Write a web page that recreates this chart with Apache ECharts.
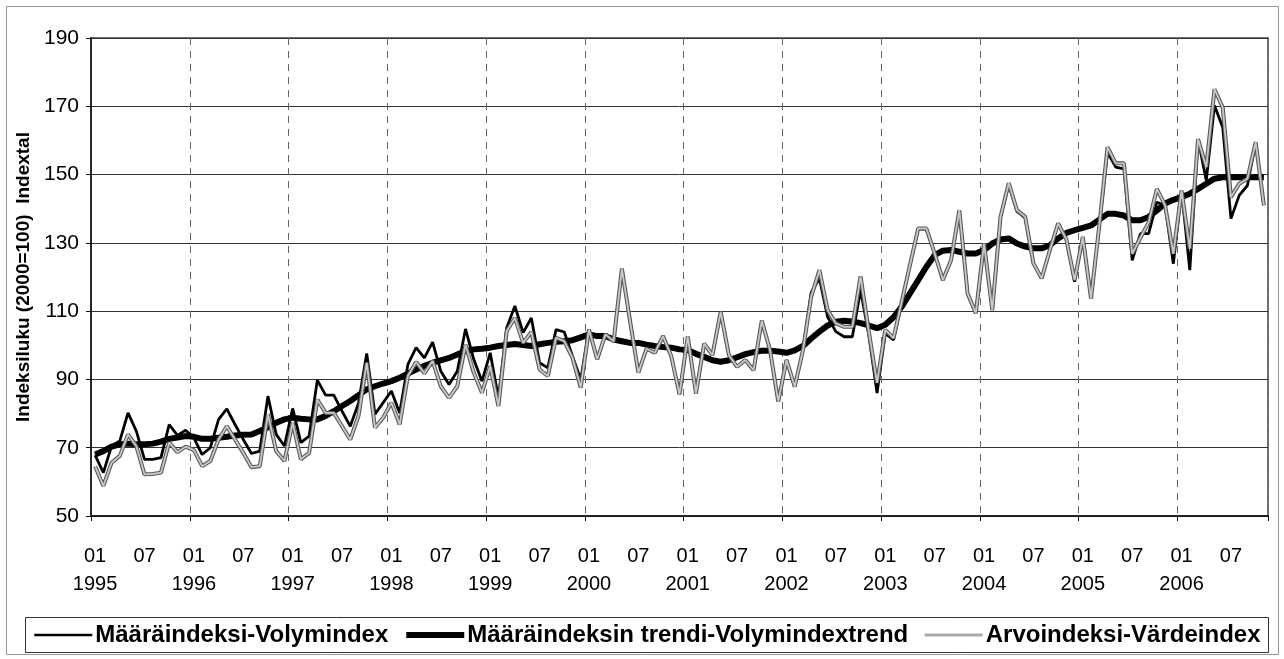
<!DOCTYPE html>
<html>
<head>
<meta charset="utf-8">
<script src="https://cdn.jsdelivr.net/npm/echarts@6/dist/echarts.min.js"></script>
<style>
  html, body { margin: 0; padding: 0; background: #fff; }
  #chart { width: 1284px; height: 659px; }
</style>
</head>
<body>
<div id="chart"></div>
<script>
// months 1995-01 .. 2006-11
const years = ['1995', '1996', '1997', '1998', '1999', '2000', '2001', '2002', '2003', '2004', '2005', '2006'];
const monthCodes = ['01', '02', '03', '04', '05', '06', '07', '08', '09', '10', '11', '12'];
const categories = [];
years.forEach(y => monthCodes.forEach(m => categories.push(y + '-' + m)));
categories.length = 143;

const yTicks = [50, 70, 90, 110, 130, 150, 170, 190];

// Määräindeksi-Volymindex
const volymindex = [
  67.8, 62.7, 70.5, 72.0, 80.2, 74.9, 66.6, 66.6, 67.1, 76.8, 73.6, 75.1,
  72.9, 68.0, 70.0, 78.3, 81.4, 76.8, 72.4, 68.3, 69.0, 85.1, 73.9, 70.5,
  81.5, 71.5, 73.4, 89.8, 85.4, 85.4, 80.7, 76.3, 83.0, 97.6, 79.8, 83.2,
  86.6, 80.2, 94.4, 99.3, 96.3, 100.9, 92.4, 88.5, 92.4, 104.8, 95.9, 89.5,
  97.8, 84.6, 105.1, 111.5, 103.7, 108.0, 94.9, 93.4, 104.6, 103.9, 96.8, 90.0,
  104.6, 95.9, 103.2, 101.2, 122.4, 107.0, 92.0, 99.0, 97.8, 102.7, 96.8, 85.6,
  102.6, 85.9, 100.5, 97.1, 109.8, 97.1, 93.7, 95.7, 92.7, 107.2, 98.6, 83.5,
  95.7, 87.9, 98.6, 115.5, 119.6, 108.3, 104.0, 102.5, 102.5, 116.1, 103.0, 86.0,
  103.5, 101.6, 112.5, 123.5, 134.0, 134.0, 126.9, 119.1, 125.0, 139.3, 115.2, 109.4,
  129.8, 110.3, 137.6, 147.2, 139.2, 137.3, 124.0, 119.6, 127.9, 135.7, 131.0, 118.6,
  131.7, 113.7, 135.0, 156.5, 152.2, 151.7, 124.9, 132.7, 132.7, 141.9, 141.0, 123.9,
  145.3, 122.0, 160.4, 148.3, 170.2, 163.8, 137.1, 143.9, 146.8, 159.5, 141.0
];

// Määräindeksin trendi-Volymindextrend
const trendi = [
  68.0, 69.0, 70.3, 71.0, 71.2, 71.0, 71.0, 71.2, 71.8, 72.6, 73.0, 73.4,
  73.2, 72.6, 72.6, 72.9, 73.2, 73.6, 73.8, 73.9, 74.9, 76.0, 77.3, 78.3,
  78.8, 78.5, 78.3, 78.3, 79.3, 80.7, 82.2, 83.7, 85.4, 87.1, 88.0, 88.8,
  89.5, 90.5, 91.7, 92.9, 94.0, 94.9, 95.6, 96.3, 97.3, 98.3, 98.8, 99.0,
  99.3, 99.8, 100.1, 100.4, 100.1, 99.8, 100.3, 100.7, 101.0, 101.2, 101.5, 102.3,
  103.2, 102.7, 102.7, 101.7, 101.2, 100.7, 100.7, 100.2, 99.8, 99.5, 99.3, 98.8,
  98.6, 97.5, 96.6, 95.6, 95.2, 95.6, 96.5, 97.4, 98.0, 98.4, 98.4, 98.2,
  97.8, 98.5, 99.8, 102.0, 104.0, 105.8, 106.9, 107.2, 107.0, 106.5, 105.8, 105.0,
  106.0, 108.2, 111.3, 115.2, 119.1, 123.0, 126.4, 127.7, 127.9, 127.4, 126.9, 126.9,
  127.9, 129.8, 131.0, 131.3, 129.8, 128.9, 128.4, 128.4, 129.3, 131.3, 132.9, 133.7,
  134.4, 135.1, 136.8, 138.5, 138.5, 138.0, 136.6, 136.6, 137.6, 139.5, 141.5, 142.6,
  143.4, 144.4, 145.8, 147.3, 148.8, 149.2, 149.2, 149.2, 149.2, 149.2, 149.2
];

// Arvoindeksi-Värdeindex
const arvoindeksi = [
  64.6, 58.8, 65.6, 67.6, 73.9, 70.5, 62.2, 62.3, 62.7, 71.5, 68.7, 70.3,
  69.3, 64.6, 66.1, 72.4, 76.3, 72.4, 68.5, 64.3, 64.6, 79.8, 69.0, 66.1,
  77.3, 66.6, 68.5, 84.1, 80.2, 80.2, 76.3, 72.4, 79.3, 94.9, 75.9, 78.8,
  83.2, 76.8, 91.0, 95.1, 91.8, 95.4, 88.0, 84.6, 88.0, 100.2, 92.0, 86.1,
  93.9, 82.2, 104.1, 108.0, 100.7, 103.9, 92.9, 91.0, 102.2, 101.2, 96.3, 87.6,
  104.6, 95.9, 103.2, 101.2, 122.4, 107.0, 92.0, 99.0, 97.8, 102.7, 96.8, 85.6,
  102.6, 85.9, 100.5, 97.1, 109.8, 97.1, 93.7, 95.7, 92.7, 107.2, 98.6, 83.5,
  95.7, 87.9, 98.6, 114.2, 122.0, 110.3, 106.4, 105.4, 105.4, 120.2, 104.0, 89.0,
  104.5, 102.1, 112.8, 123.5, 134.2, 134.2, 126.9, 119.1, 125.0, 139.6, 115.2, 109.4,
  129.8, 110.3, 137.6, 147.5, 139.6, 137.6, 124.0, 119.6, 127.9, 135.7, 131.0, 119.1,
  131.7, 113.7, 135.0, 158.0, 153.3, 153.3, 126.8, 131.5, 136.0, 145.8, 141.0, 126.8,
  145.3, 128.3, 160.4, 152.2, 175.0, 169.7, 143.4, 147.3, 148.8, 159.5, 141.0
];

const seriesNames = ['Määräindeksi-Volymindex', 'Määräindeksin trendi-Volymindextrend', 'Arvoindeksi-Värdeindex'];

const fontFamily = "'Liberation Sans', Arial, sans-serif";
const chart = echarts.init(document.getElementById('chart'), null, { renderer: 'canvas' });

const option = {
  backgroundColor: '#fff',
  animation: false,
  textStyle: { fontFamily: fontFamily, color: '#000' },
  graphic: [
    {
      type: 'rect', silent: true, z: -1,
      shape: { x: 6.5, y: 6.5, width: 1272, height: 648 },
      style: { fill: 'none', stroke: '#999', lineWidth: 1 }
    },
    {
      type: 'rect', silent: true, z: -1,
      shape: { x: 25.5, y: 617.5, width: 1243, height: 35 },
      style: { fill: 'none', stroke: '#333', lineWidth: 1 }
    }
  ],
  grid: {
    left: 91, right: 16, top: 38, bottom: 143,
    show: true, borderColor: '#444', borderWidth: 1.5, backgroundColor: '#fff'
  },
  legend: {
    data: [
      { name: seriesNames[0], lineStyle: { width: 2.5, color: '#000' } },
      { name: seriesNames[1], lineStyle: { width: 6, color: '#000' } },
      { name: seriesNames[2], lineStyle: { width: 3, color: '#aaa' } }
    ],
    left: 33, top: 623,
    padding: 0,
    itemGap: 15,
    itemWidth: 58,
    itemHeight: 12,
    itemStyle: { color: 'rgba(0,0,0,0)', borderColor: 'rgba(0,0,0,0)', borderWidth: 0 },
    textStyle: { fontSize: 24, fontWeight: 'bold', fontFamily: fontFamily, color: '#000', padding: [0, 0, 0, -2] }
  },
  xAxis: {
    type: 'category',
    data: categories,
    boundaryGap: true,
    axisLine: { lineStyle: { color: '#111', width: 1.5 } },
    axisTick: {
      show: true, length: 5,
      interval: (i) => i % 12 === 0,
      lineStyle: { color: '#111' }
    },
    axisLabel: {
      interval: (i) => i % 6 === 0,
      margin: 26,
      fontSize: 20,
      lineHeight: 28,
      color: '#000',
      formatter: (value) => {
        const parts = value.split('-');
        return parts[1] === '01' ? parts[1] + '\n' + parts[0] : parts[1];
      }
    },
    splitLine: {
      show: true,
      interval: (i) => i % 12 === 0 && i > 0,
      lineStyle: { color: '#666', width: 1, type: [7, 6] }
    }
  },
  yAxis: {
    type: 'value',
    min: yTicks[0],
    max: yTicks[yTicks.length - 1],
    interval: 20,
    name: 'Indeksiluku (2000=100)  Indextal',
    nameLocation: 'middle',
    nameGap: 47,
    nameRotate: 90,
    nameTextStyle: { fontSize: 19, fontWeight: 'bold', color: '#000' },
    axisLine: { show: true, lineStyle: { color: '#111', width: 1.5 } },
    axisTick: { show: true, length: 5, inside: false, lineStyle: { color: '#111' } },
    axisLabel: { fontSize: 21, margin: 12, color: '#000' },
    splitLine: { show: true, lineStyle: { color: '#333', width: 1 } }
  },
  series: [
    {
      name: seriesNames[0],
      type: 'line',
      data: volymindex,
      symbol: 'none',
      z: 2,
      lineStyle: { color: '#000', width: 2.8 },
      itemStyle: { color: '#000' }
    },
    {
      name: seriesNames[1],
      type: 'line',
      data: trendi,
      symbol: 'none',
      z: 3,
      lineStyle: { color: '#000', width: 6 },
      itemStyle: { color: '#000' }
    },
    {
      // light core of the grey line (first with this name -> legend icon)
      name: seriesNames[2],
      type: 'line',
      data: arvoindeksi,
      symbol: 'none',
      z: 5,
      lineStyle: { color: '#c8c8c8', width: 1.8 },
      itemStyle: { color: '#c8c8c8' }
    },
    {
      // darker outline of the grey line
      name: seriesNames[2],
      type: 'line',
      data: arvoindeksi,
      symbol: 'none',
      z: 4,
      lineStyle: { color: '#5a5a5a', width: 4 },
      itemStyle: { color: '#5a5a5a' }
    }
  ]
};

chart.setOption(option);
</script>
</body>
</html>
